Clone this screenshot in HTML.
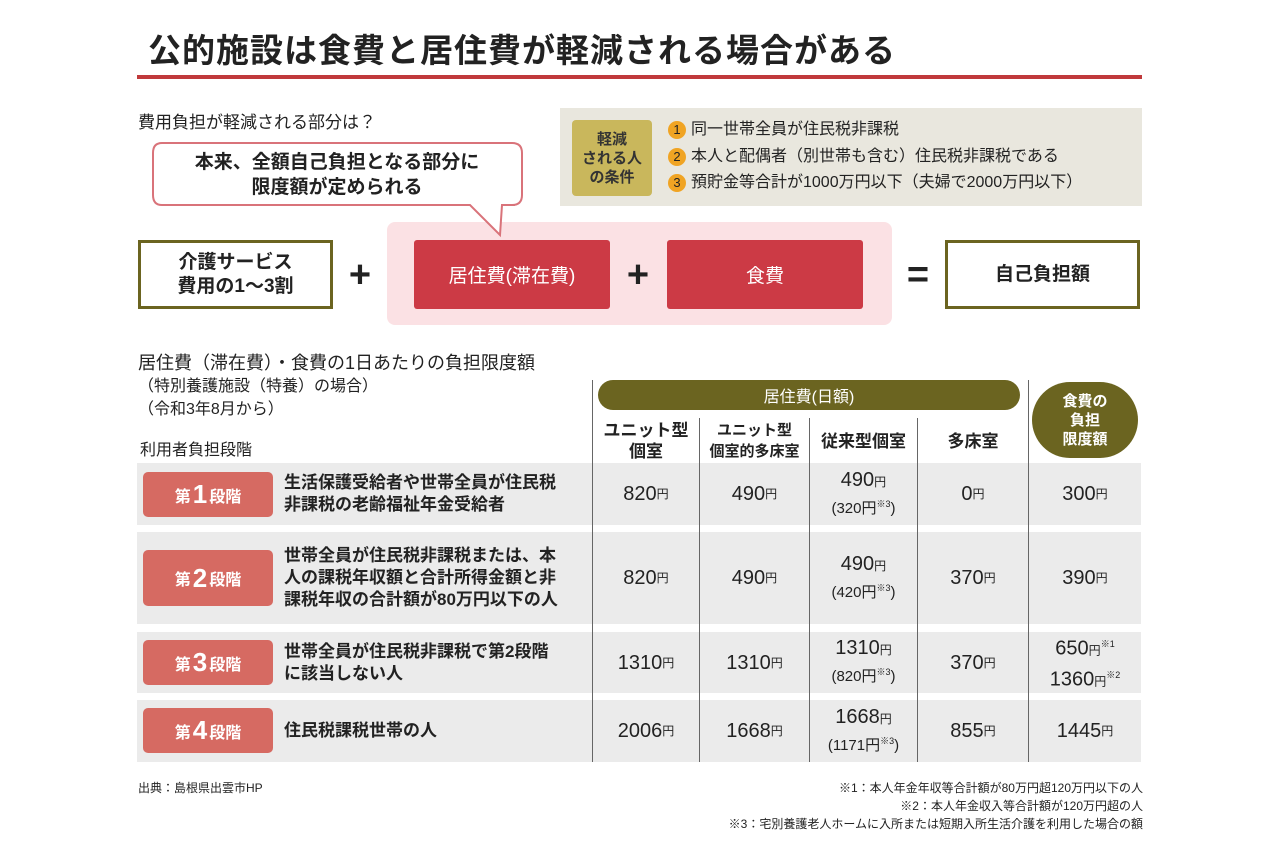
<!DOCTYPE html>
<html><head><meta charset="utf-8"><style>
body{margin:0;width:1280px;height:844px;background:#fff;position:relative;overflow:hidden;font-family:"Liberation Sans","Noto Sans CJK JP",sans-serif;color:#222}
.a{position:absolute}
.c{display:flex;align-items:center;justify-content:center;text-align:center}
.ob{border:3px solid #6b6420;box-sizing:border-box;background:#fff;font-weight:bold;font-size:19px;line-height:24px}
.rb{background:#cc3a45;color:#fff;font-size:19px;border-radius:3px}
.op{font-size:38px;font-weight:bold;color:#222}
.row{background:#ebebeb;left:137px;width:1004px}
.st{left:143px;width:130px;background:#d66a62;color:#fff;border-radius:5px;font-size:16px;font-weight:bold}
.st b{font-size:26px;margin:0 2px}
.ds{left:284px;font-size:17px;line-height:22px;font-weight:bold;color:#222}
.v{font-size:20px;color:#222;line-height:22px}
.v small{font-size:12px}
.v .s{font-size:15px}
.vl{top:380px;height:382px;width:1px;background:#666}
.hd{font-size:17px;font-weight:bold;line-height:21px;top:418px;height:46px}
.fn{font-size:12px;color:#222}
</style></head><body>
<div class="a" style="left:148px;top:24px;font-size:33px;font-weight:bold;letter-spacing:1px">公的施設は食費と居住費が軽減される場合がある</div>
<div class="a" style="left:137px;top:75px;width:1005px;height:4px;background:#c0393b"></div>

<div class="a" style="left:138px;top:108px;font-size:17px">費用負担が軽減される部分は？</div>
<div class="a" style="left:560px;top:108px;width:582px;height:98px;background:#e9e7de"></div>
<div class="a c" style="left:572px;top:120px;width:80px;height:76px;background:#c9b75c;border-radius:4px;font-size:15px;line-height:19px;font-weight:bold;color:#333">軽減<br>される人<br>の条件</div>
<div class="a" style="left:668px;top:117px;font-size:16px;line-height:26.5px">
<div><span style="display:inline-block;width:18px;height:18px;border-radius:50%;background:#f0a423;text-align:center;line-height:18px;font-size:13px;margin-right:5px">1</span>同一世帯全員が住民税非課税</div>
<div><span style="display:inline-block;width:18px;height:18px;border-radius:50%;background:#f0a423;text-align:center;line-height:18px;font-size:13px;margin-right:5px">2</span>本人と配偶者（別世帯も含む）住民税非課税である</div>
<div><span style="display:inline-block;width:18px;height:18px;border-radius:50%;background:#f0a423;text-align:center;line-height:18px;font-size:13px;margin-right:5px">3</span>預貯金等合計が1000万円以下（夫婦で2000万円以下）</div>
</div>

<div class="a" style="left:387px;top:222px;width:505px;height:103px;background:#fbe1e4;border-radius:8px"></div>
<svg class="a" style="left:150px;top:140px" width="380" height="100"><path d="M12 3 H362 Q372 3 372 13 V55 Q372 65 362 65 H365 L352 65 L350 95 L320 65 H12 Q3 65 3 55 V13 Q3 3 12 3Z" fill="#fff" stroke="#d9737a" stroke-width="2"/></svg>
<div class="a c" style="left:153px;top:146px;width:368px;height:58px;font-size:19px;font-weight:bold;line-height:25px">本来、全額自己負担となる部分に<br>限度額が定められる</div>

<div class="a c ob" style="left:138px;top:240px;width:195px;height:69px">介護サービス<br>費用の1～3割</div>
<div class="a c op" style="left:340px;top:250px;width:40px;height:50px">+</div>
<div class="a c rb" style="left:414px;top:240px;width:196px;height:69px">居住費(滞在費)</div>
<div class="a c op" style="left:618px;top:250px;width:40px;height:50px">+</div>
<div class="a c rb" style="left:667px;top:240px;width:196px;height:69px">食費</div>
<div class="a c op" style="left:898px;top:250px;width:40px;height:50px">=</div>
<div class="a c ob" style="left:945px;top:240px;width:195px;height:69px">自己負担額</div>

<div class="a" style="left:138px;top:349px;font-size:18px">居住費（滞在費）・食費の1日あたりの負担限度額</div>
<div class="a" style="left:138px;top:375px;font-size:16px;line-height:23px">（特別養護施設（特養）の場合）<br>（令和3年8月から）</div>
<div class="a" style="left:140px;top:436px;font-size:16px">利用者負担段階</div>

<div class="a row" style="top:463px;height:62px"></div>
<div class="a row" style="top:532px;height:92px"></div>
<div class="a row" style="top:632px;height:61px"></div>
<div class="a row" style="top:700px;height:62px"></div>

<div class="a vl" style="left:592px"></div>
<div class="a vl" style="left:699px;top:418px;height:344px"></div>
<div class="a vl" style="left:809px;top:418px;height:344px"></div>
<div class="a vl" style="left:917px;top:418px;height:344px"></div>
<div class="a vl" style="left:1028px"></div>

<div class="a c" style="left:598px;top:380px;width:422px;height:30px;background:#6b6420;border-radius:15px;color:#fff;font-size:16px">居住費(日額)</div>
<div class="a c" style="left:1032px;top:382px;width:106px;height:76px;background:#6b6420;border-radius:38px;color:#fff;font-size:15px;line-height:19px;font-weight:bold">食費の<br>負担<br>限度額</div>
<div class="a c hd" style="left:593px;width:106px">ユニット型<br>個室</div>
<div class="a c hd" style="left:700px;width:109px;font-size:15px">ユニット型<br>個室的多床室</div>
<div class="a c hd" style="left:810px;width:107px">従来型個室</div>
<div class="a c hd" style="left:918px;width:110px">多床室</div>

<div class="a c st" style="top:472px;height:45px">第<b>1</b>段階</div>
<div class="a ds" style="top:472px">生活保護受給者や世帯全員が住民税<br>非課税の老齢福祉年金受給者</div>
<div class="a c st" style="top:550px;height:56px">第<b>2</b>段階</div>
<div class="a ds" style="top:545px">世帯全員が住民税非課税または、本<br>人の課税年収額と合計所得金額と非<br>課税年収の合計額が80万円以下の人</div>
<div class="a c st" style="top:640px;height:45px">第<b>3</b>段階</div>
<div class="a ds" style="top:641px">世帯全員が住民税非課税で第2段階<br>に該当しない人</div>
<div class="a c st" style="top:708px;height:45px">第<b>4</b>段階</div>
<div class="a ds" style="top:720px">住民税課税世帯の人</div>

<div class="a c v" style="left:593px;top:463px;width:106px;height:62px">820<small>円</small></div>
<div class="a c v" style="left:700px;top:463px;width:109px;height:62px">490<small>円</small></div>
<div class="a c v" style="left:810px;top:463px;width:107px;height:62px;flex-direction:column"><span>490<small>円</small></span><span class="s">(320円<sup style="font-size:9px">※3</sup>)</span></div>
<div class="a c v" style="left:918px;top:463px;width:110px;height:62px">0<small>円</small></div>
<div class="a c v" style="left:1029px;top:463px;width:112px;height:62px">300<small>円</small></div>

<div class="a c v" style="left:593px;top:532px;width:106px;height:92px">820<small>円</small></div>
<div class="a c v" style="left:700px;top:532px;width:109px;height:92px">490<small>円</small></div>
<div class="a c v" style="left:810px;top:532px;width:107px;height:92px;flex-direction:column"><span>490<small>円</small></span><span class="s">(420円<sup style="font-size:9px">※3</sup>)</span></div>
<div class="a c v" style="left:918px;top:532px;width:110px;height:92px">370<small>円</small></div>
<div class="a c v" style="left:1029px;top:532px;width:112px;height:92px">390<small>円</small></div>

<div class="a c v" style="left:593px;top:632px;width:106px;height:61px">1310<small>円</small></div>
<div class="a c v" style="left:700px;top:632px;width:109px;height:61px">1310<small>円</small></div>
<div class="a c v" style="left:810px;top:632px;width:107px;height:61px;flex-direction:column"><span>1310<small>円</small></span><span class="s">(820円<sup style="font-size:9px">※3</sup>)</span></div>
<div class="a c v" style="left:918px;top:632px;width:110px;height:61px">370<small>円</small></div>
<div class="a c v" style="left:1029px;top:632px;width:112px;height:61px;flex-direction:column;line-height:24px"><span>650<small>円</small><sup style="font-size:9px">※1</sup></span><span>1360<small>円</small><sup style="font-size:9px">※2</sup></span></div>

<div class="a c v" style="left:593px;top:700px;width:106px;height:62px">2006<small>円</small></div>
<div class="a c v" style="left:700px;top:700px;width:109px;height:62px">1668<small>円</small></div>
<div class="a c v" style="left:810px;top:700px;width:107px;height:62px;flex-direction:column"><span>1668<small>円</small></span><span class="s">(1171円<sup style="font-size:9px">※3</sup>)</span></div>
<div class="a c v" style="left:918px;top:700px;width:110px;height:62px">855<small>円</small></div>
<div class="a c v" style="left:1029px;top:700px;width:112px;height:62px">1445<small>円</small></div>

<div class="a fn" style="left:138px;top:779px">出典：島根県出雲市HP</div>
<div class="a fn" style="right:137px;top:779px;text-align:right;line-height:18px">※1：本人年金年収等合計額が80万円超120万円以下の人<br>※2：本人年金収入等合計額が120万円超の人<br>※3：宅別養護老人ホームに入所または短期入所生活介護を利用した場合の額</div>
</body></html>
